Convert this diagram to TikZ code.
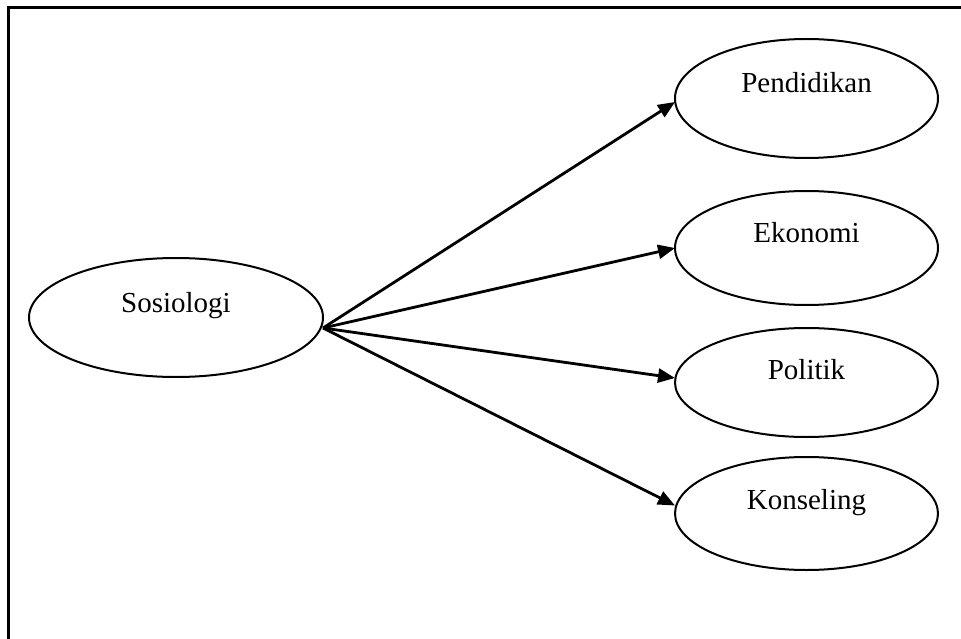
\documentclass[tikz,border=0pt]{standalone}
\usepackage{fontspec}
\setmainfont{Liberation Serif}
\usetikzlibrary{shapes.geometric,arrows.meta}
\tikzset{
  oval/.style={draw=black, line width=2pt, ellipse, inner sep=0pt, outer sep=0pt},
  lbl/.style={anchor=base, inner sep=0pt, font=\fontsize{29}{34}\selectfont},
  link/.style={line width=2.8pt, -{Triangle[length=17pt,width=14pt]}},
  frame/.style={line width=2.2pt}
}
\begin{document}
\begin{tikzpicture}[x=1pt,y=-1pt]
\useasboundingbox (0,0) rectangle (961,639);
\draw[frame] (8.5,639) -- (8.5,7.5) -- (961,7.5);
\node[oval, minimum width=294pt, minimum height=119pt] (sos) at (176,317.5) {};
\node[lbl] (tsos) at (176,312) {Sosiologi};
\node[oval, minimum width=263pt, minimum height=119pt] (pend) at (806.5,98.5) {};
\node[lbl] (tpend) at (806.5,93) {Pendidikan};
\node[oval, minimum width=263pt, minimum height=114pt] (eko) at (806.5,248) {};
\node[lbl] (teko) at (806.5,243) {Ekonomi};
\node[oval, minimum width=263pt, minimum height=109pt] (pol) at (806.5,382.5) {};
\node[lbl] (tpol) at (806.5,379) {Politik};
\node[oval, minimum width=263pt, minimum height=113pt] (kons) at (806.5,513.5) {};
\node[lbl] (tkons) at (806.5,509) {Konseling};
\coordinate (src) at (323,328);
\draw[link] (src) -- ([yshift=-3.5pt]pend.west);
\draw[link] (src) -- (eko.west);
\draw[link] (src) -- ([yshift=4.5pt]pol.west);
\draw[link] (src) -- ([yshift=8pt]kons.west);
\end{tikzpicture}
\end{document}
